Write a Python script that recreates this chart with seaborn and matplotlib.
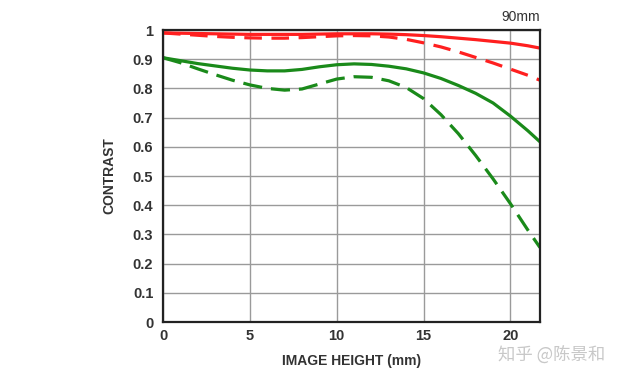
import matplotlib
matplotlib.use("Agg")
import matplotlib.pyplot as plt
import seaborn as sns
import pandas as pd

sns.set_theme(style="white")
plt.rcParams['font.family'] = ['Liberation Sans', 'DejaVu Sans']

# Image height (mm)
height = [0, 1, 2, 3, 4, 5, 6, 7, 8, 9, 10, 11, 12, 13, 14, 15, 16, 17, 18, 19, 20, 21, 21.7]
red_solid = [0.99, 0.989, 0.988, 0.987, 0.986, 0.985, 0.985, 0.985, 0.985, 0.986, 0.987, 0.987, 0.987, 0.986, 0.984, 0.981, 0.977, 0.972, 0.967, 0.961, 0.955, 0.946, 0.938]
red_dashed = [0.99, 0.986, 0.982, 0.978, 0.975, 0.973, 0.972, 0.972, 0.974, 0.977, 0.980, 0.981, 0.980, 0.976, 0.968, 0.956, 0.942, 0.925, 0.906, 0.887, 0.866, 0.845, 0.828]
green_solid = [0.905, 0.895, 0.885, 0.877, 0.869, 0.863, 0.860, 0.860, 0.865, 0.874, 0.881, 0.884, 0.882, 0.876, 0.867, 0.853, 0.834, 0.810, 0.783, 0.750, 0.705, 0.655, 0.617]
green_dashed = [0.905, 0.888, 0.867, 0.847, 0.828, 0.812, 0.800, 0.794, 0.798, 0.815, 0.832, 0.840, 0.838, 0.826, 0.803, 0.765, 0.710, 0.645, 0.570, 0.490, 0.405, 0.315, 0.255]

series = {
    "red_solid": (red_solid, "#ff1f1f", None),
    "red_dashed": (red_dashed, "#ff1f1f", (5.5, 3)),
    "green_solid": (green_solid, "#1a8a1a", None),
    "green_dashed": (green_dashed, "#1a8a1a", (6, 2.8)),
}

fig = plt.figure(figsize=(6.34, 3.80), dpi=100)
ax = fig.add_axes([163/634, 1-322/380, (540-163)/634, (322-30)/380])

for name, (vals, color, dash) in series.items():
    df = pd.DataFrame({"h": height, "c": vals})
    sns.lineplot(data=df, x="h", y="c", ax=ax, color=color, linewidth=2.3)
    l = ax.lines[-1]
    if dash is not None:
        l.set_dashes(dash)

ax.set_xlim(0, 21.7)
ax.set_ylim(0, 1.0)
ax.set_xticks([0, 5, 10, 15, 20])
ax.set_yticks([0, 0.1, 0.2, 0.3, 0.4, 0.5, 0.6, 0.7, 0.8, 0.9, 1.0])
ax.set_yticklabels(["0", "0.1", "0.2", "0.3", "0.4", "0.5", "0.6", "0.7", "0.8", "0.9", "1"])
ax.grid(True, color="#9a9a9a", linewidth=1)
for s in ax.spines.values():
    s.set_color("#222222")
    s.set_linewidth(1.6)
ax.tick_params(axis="x", pad=5)
ax.tick_params(axis="y", pad=7)
ax.tick_params(axis="both", length=0, labelsize=10.5, colors="#333333")
for t in ax.get_xticklabels() + ax.get_yticklabels():
    t.set_fontweight("bold")
ax.set_xlabel("IMAGE HEIGHT (mm)", fontsize=10, fontweight="bold", color="#333333", labelpad=8)
ax.set_ylabel("CONTRAST", fontsize=10, fontweight="bold", color="#333333", labelpad=12)
ax.text(1.0, 1.02, "90mm", transform=ax.transAxes, ha="right", va="bottom", fontsize=10,
        color="#333333")

fig.text(0.955, 1 - 356/380, "知乎 @陈景和", ha="right", va="center", fontsize=12.5, color="#c8c8c8",
         family=["Noto Sans CJK SC", "DejaVu Sans"])

fig.savefig("out.png", dpi=100, facecolor="white")
